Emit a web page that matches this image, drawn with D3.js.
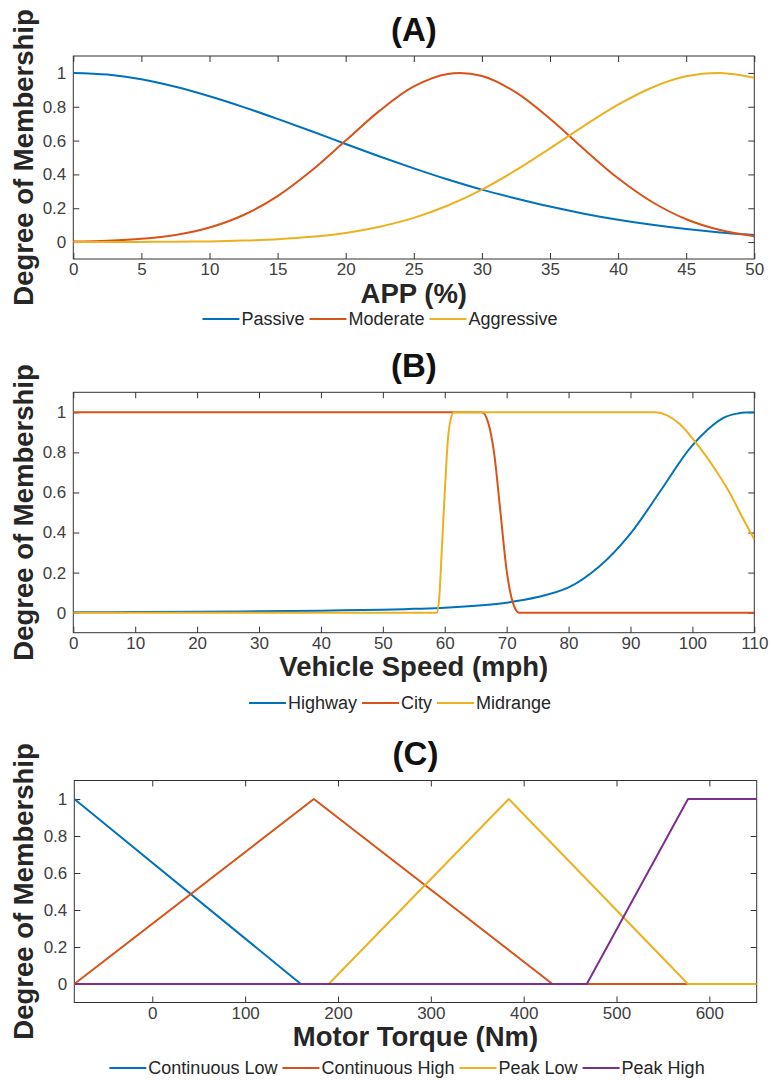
<!DOCTYPE html>
<html lang="en">
<head>
  <meta charset="UTF-8">
  <script src="https://d3js.org/d3.v7.min.js"></script>
  <style>
    body {
      margin: 0;
      padding: 0;
      background: #fff;
      font-family: "Liberation Sans", Arial, Helvetica, sans-serif;
    }
    .axis text {
      font-size: 17px;
      fill: #404040;
    }
    .axis path { display: none; }
    .axis line { stroke: #333; }
    .label {
      font-weight: bold;
      font-size: 27.5px;
      fill: #262626;
    }
    .title {
      font-weight: bold;
      font-size: 33px;
      fill: #111;
    }
    .legend text {
      font-size: 18px;
      fill: #262626;
    }
  </style>
</head>
<body>
<div id="chart"></div>
<script>
  // colors (matlab defaults)
  const blue = "#0072BD", orange = "#D95319", yellow = "#EDB120", purple = "#7E2F8E";

  const yTicks = [0, 0.2, 0.4, 0.6, 0.8, 1];

  // (A) APP membership
  const appX = [0, 2.5, 5, 7.5, 10, 12.5, 15, 17.5, 20, 22.5, 25, 27.5, 30, 32.5, 35, 37.5, 40, 42.5, 45, 47.5, 50];
  const passive = [1.00, 0.99, 0.962, 0.918, 0.862, 0.798, 0.728, 0.655, 0.58, 0.506, 0.436, 0.37, 0.31, 0.258, 0.21, 0.168, 0.132, 0.102, 0.077, 0.057, 0.042];
  const moderate = [0.003, 0.008, 0.019, 0.042, 0.086, 0.16, 0.272, 0.423, 0.60, 0.777, 0.92, 0.994, 0.982, 0.885, 0.729, 0.549, 0.377, 0.237, 0.135, 0.071, 0.034];
  const aggressive = [0, 0, 0.001, 0.002, 0.004, 0.009, 0.017, 0.031, 0.054, 0.091, 0.143, 0.216, 0.31, 0.425, 0.554, 0.687, 0.812, 0.914, 0.98, 1.0, 0.972];
  const appTicks = [0, 5, 10, 15, 20, 25, 30, 35, 40, 45, 50];

  // (B) vehicle speed membership
  const highwayX = [0, 10, 20, 30, 40, 50, 55, 60, 65, 70, 75, 80, 85, 90, 95, 100, 105, 107.5, 110];
  const highwayY = [0.002, 0.003, 0.005, 0.007, 0.01, 0.015, 0.019, 0.024, 0.034, 0.05, 0.078, 0.126, 0.232, 0.395, 0.615, 0.835, 0.972, 0.995, 1.0];
  const cityX = [0, 66, 67, 68, 69, 70, 71, 72, 110];
  const cityY = [1, 1, 0.95, 0.79, 0.5, 0.21, 0.05, 0, 0];
  const midX = [0, 58.7, 59.1, 59.5, 60, 60.5, 61, 61.5, 94, 96, 98, 100, 102, 104, 106, 108, 110];
  const midY = [0, 0, 0.07, 0.3, 0.6, 0.86, 0.97, 1, 1, 0.984, 0.94, 0.87, 0.79, 0.70, 0.60, 0.48, 0.365];
  const speedTicks = [0, 10, 20, 30, 40, 50, 60, 70, 80, 90, 100, 110];

  // (C) motor torque membership
  const contLowX = [-84, 160, 651], contLowY = [1, 0, 0];
  const contHighX = [-84, 174, 431, 651], contHighY = [0, 1, 0, 0];
  const peakLowX = [-84, 190, 384, 577, 651], peakLowY = [0, 0, 1, 0, 0];
  const peakHighX = [-84, 468, 577, 651], peakHighY = [0, 0, 1, 1];
  const torqueTicks = [0, 100, 200, 300, 400, 500, 600];

  const svg = d3.select("#chart").append("svg")
    .attr("width", 771)
    .attr("height", 1080);

  const zip = (xs, ys) => xs.map((x, i) => [x, ys[i]]);
  const smooth = d3.curveCatmullRom.alpha(0.5);
  const mono = d3.curveMonotoneX;

  const panels = [
    {
      title: "(A)", xlabel: "APP (%)",
      left: 73.3, right: 754.3, top: 56, bottom: 259,
      xdom: [0, 50], xticks: appTicks,
      titleY: 41, xlabelY: 303, legendY: 319, legendCx: 380,
      series: [
        {name: "Passive", color: blue, curve: smooth, pts: zip(appX, passive)},
        {name: "Moderate", color: orange, curve: smooth, pts: zip(appX, moderate)},
        {name: "Aggressive", color: yellow, curve: smooth, pts: zip(appX, aggressive)}
      ]
    },
    {
      title: "(B)", xlabel: "Vehicle Speed (mph)",
      left: 73.3, right: 754.3, top: 392.3, bottom: 632.7,
      xdom: [0, 110], xticks: speedTicks,
      titleY: 377, xlabelY: 676, legendY: 703, legendCx: 400,
      series: [
        {name: "Highway", color: blue, curve: smooth, pts: zip(highwayX, highwayY)},
        {name: "City", color: orange, curve: mono, pts: zip(cityX, cityY)},
        {name: "Midrange", color: yellow, curve: mono, pts: zip(midX, midY)}
      ]
    },
    {
      title: "(C)", xlabel: "Motor Torque (Nm)",
      left: 74.3, right: 756.7, top: 780.5, bottom: 1002.5,
      xdom: [-84, 651], xticks: torqueTicks,
      titleY: 765, xlabelY: 1046, legendY: 1068, legendCx: 407,
      series: [
        {name: "Continuous Low", color: blue, curve: d3.curveLinear, pts: zip(contLowX, contLowY)},
        {name: "Continuous High", color: orange, curve: d3.curveLinear, pts: zip(contHighX, contHighY)},
        {name: "Peak Low", color: yellow, curve: d3.curveLinear, pts: zip(peakLowX, peakLowY)},
        {name: "Peak High", color: purple, curve: d3.curveLinear, pts: zip(peakHighX, peakHighY)}
      ]
    }
  ];

  panels.forEach((p, pi) => {
    const x = d3.scaleLinear().domain(p.xdom).range([p.left, p.right]);
    const y = d3.scaleLinear().domain([-0.1, 1.1]).range([p.bottom, p.top]);
    const cx = (p.left + p.right) / 2;

    const g = svg.append("g");

    // axes, ticks pointing inward on all four sides
    g.append("g").attr("class", "axis")
      .attr("transform", `translate(0,${p.bottom})`)
      .call(d3.axisBottom(x).tickValues(p.xticks).tickSizeInner(-6).tickSizeOuter(0).tickPadding(4));
    g.append("g").attr("class", "axis")
      .attr("transform", `translate(0,${p.top})`)
      .call(d3.axisTop(x).tickValues(p.xticks).tickSizeInner(-6).tickSizeOuter(0).tickFormat(""));
    g.append("g").attr("class", "axis")
      .attr("transform", `translate(${p.left},0)`)
      .call(d3.axisLeft(y).tickValues(yTicks).tickSizeInner(-6).tickSizeOuter(0).tickPadding(7).tickFormat(d => String(d)));
    g.append("g").attr("class", "axis")
      .attr("transform", `translate(${p.right},0)`)
      .call(d3.axisRight(y).tickValues(yTicks).tickSizeInner(-6).tickSizeOuter(0).tickFormat(""));

    g.append("rect")
      .attr("x", p.left).attr("y", p.top)
      .attr("width", p.right - p.left).attr("height", p.bottom - p.top)
      .attr("fill", "none").attr("stroke", "#333").attr("stroke-width", 1);

    g.append("clipPath").attr("id", "clip" + pi)
      .append("rect")
      .attr("x", p.left).attr("y", p.top)
      .attr("width", p.right - p.left).attr("height", p.bottom - p.top);

    g.append("g").attr("clip-path", `url(#clip${pi})`)
      .selectAll("path")
      .data(p.series)
      .enter()
      .append("path")
      .attr("d", d => d3.line().x(v => x(v[0])).y(v => y(v[1])).curve(d.curve)(d.pts))
      .attr("fill", "none")
      .attr("stroke", d => d.color)
      .attr("stroke-width", 2)
      .attr("stroke-linejoin", "round");

    // titles and labels
    g.append("text").attr("class", "title")
      .attr("x", cx).attr("y", p.titleY)
      .attr("text-anchor", "middle")
      .text(p.title);

    g.append("text").attr("class", "label")
      .attr("x", cx).attr("y", p.xlabelY)
      .attr("text-anchor", "middle")
      .text(p.xlabel);

    g.append("text").attr("class", "label")
      .attr("transform", `translate(33,${(p.top + p.bottom) / 2}) rotate(-90)`)
      .attr("text-anchor", "middle")
      .text("Degree of Membership");

    // legend below the axis label
    const leg = g.append("g").attr("class", "legend");
    let pos = 0;
    p.series.forEach((s, i) => {
      if (i > 0) pos += 5;
      leg.append("line")
        .attr("x1", pos).attr("x2", pos + 37)
        .attr("y1", 0).attr("y2", 0)
        .attr("stroke", s.color).attr("stroke-width", 2);
      pos += 39;
      const t = leg.append("text")
        .attr("x", pos).attr("y", 0).attr("dy", "0.35em")
        .text(s.name);
      pos += t.node().getComputedTextLength();
    });
    leg.attr("transform", `translate(${p.legendCx - pos / 2},${p.legendY})`);
  });
</script>
</body>
</html>
